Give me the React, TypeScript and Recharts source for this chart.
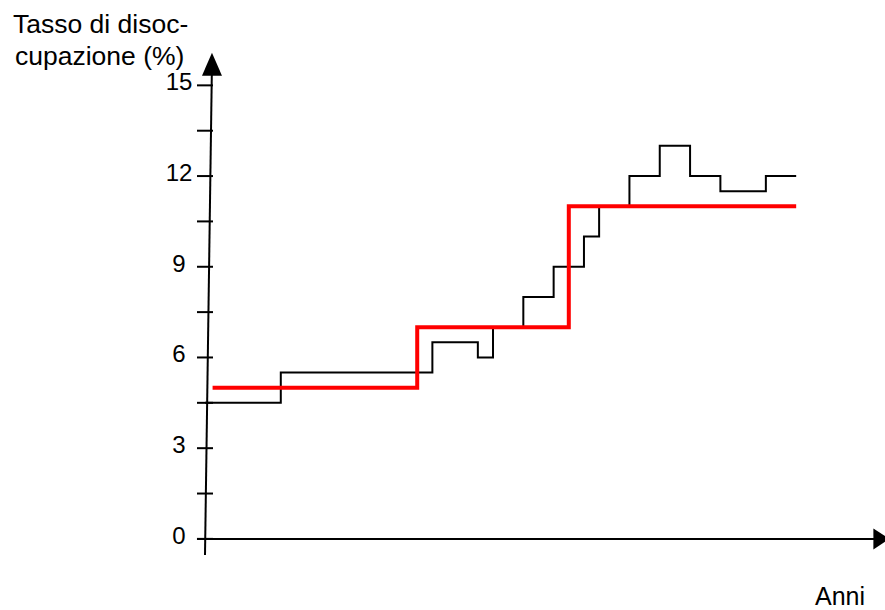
import { LineChart, Line, XAxis, YAxis, ReferenceLine } from "recharts";

// x is in half-year steps from the origin, y is the rate in %
const OBS_X = [0, 5, 15, 18, 19, 21, 23, 25, 26, 28, 30, 32, 34, 37, 39];
const OBS_RATE = [4.5, 5.5, 6.5, 6, 7, 8, 9, 10, 11, 12, 13, 12, 11.5, 12, 12];
const NAT_X = [0.5, 14, 24, 39];
const NAT_RATE = [5, 7, 11, 11];
const Y_TICKS = [0, 1.5, 3, 4.5, 6, 7.5, 9, 10.5, 12, 13.5, 15];
const LABELED = [0, 3, 6, 9, 12, 15];

const observed = OBS_X.map((x, i) => ({ x, rate: OBS_RATE[i] }));
const natural = NAT_X.map((x, i) => ({ x, rate: NAT_RATE[i] }));

const FONT = "'Liberation Sans', Arial, sans-serif";

interface TickProps {
  y?: number;
  payload?: { value: number };
}

function YTick({ y = 0, payload }: TickProps) {
  const v = payload?.value ?? 0;
  return (
    <g>
      <line x1={197} x2={213} y1={y} y2={y} stroke="#000" strokeWidth={2} />
      {LABELED.includes(v) && (
        <text x={179} y={y + 5} textAnchor="middle" fontSize={24} fontFamily={FONT} fill="#000">
          {v}
        </text>
      )}
    </g>
  );
}

interface ArrowProps {
  x1?: number;
  y1?: number;
  x2?: number;
  y2?: number;
}

function ArrowUp({ x1 = 0, y1 = 0, x2 = 0, y2 = 0 }: ArrowProps) {
  return (
    <g>
      <line x1={x1} y1={y1} x2={x2} y2={y2 + 10} stroke="#000" strokeWidth={2} />
      <polygon points={`${x2},${y2} ${x2 - 10},${y2 + 23} ${x2 + 10},${y2 + 23}`} fill="#000" />
    </g>
  );
}

function ArrowRight({ x1 = 0, y1 = 0, x2 = 0, y2 = 0 }: ArrowProps) {
  return (
    <g>
      <line x1={x1} y1={y1} x2={x2 - 10} y2={y2} stroke="#000" strokeWidth={2} />
      <polygon points={`${x2},${y2} ${x2 - 16},${y2 - 10.5} ${x2 - 16},${y2 + 10.5}`} fill="#000" />
    </g>
  );
}

export default function App() {
  return (
    <div style={{ position: "absolute", left: 0, top: 0, width: 885, height: 610, background: "#fff", fontFamily: FONT }}>
      <LineChart width={885} height={610} margin={{ top: 40, right: 10, bottom: 56, left: 0 }}>
        <XAxis type="number" dataKey="x" domain={[0, 44.2]} hide allowDataOverflow />
        <YAxis
          type="number"
          domain={[-0.5, 16.5]}
          ticks={Y_TICKS}
          interval={0}
          width={205}
          axisLine={false}
          tickLine={false}
          tick={<YTick />}
        />
        <ReferenceLine
          segment={[{ x: -0.53, y: 0 }, { x: 45.15, y: 0 }]}
          ifOverflow="visible"
          shape={(p: ArrowProps) => <ArrowRight {...p} />}
        />
        <ReferenceLine
          segment={[{ x: 0, y: -0.53 }, { x: 0.46, y: 16.08 }]}
          ifOverflow="visible"
          shape={(p: ArrowProps) => <ArrowUp {...p} />}
        />
        <Line
          data={observed}
          dataKey="rate"
          type="stepAfter"
          stroke="#000"
          strokeWidth={2}
          dot={false}
          isAnimationActive={false}
        />
        <Line
          data={natural}
          dataKey="rate"
          type="stepAfter"
          stroke="#ff0000"
          strokeWidth={4}
          dot={false}
          isAnimationActive={false}
        />
      </LineChart>
      <div style={{ position: "absolute", left: 13, top: 8, fontSize: 26.5, lineHeight: "32px", color: "#000" }}>
        <div>Tasso di disoc-</div>
        <div style={{ paddingLeft: 2 }}>cupazione (%)</div>
      </div>
      <div style={{ position: "absolute", left: 815, top: 581, fontSize: 25, lineHeight: "30px", color: "#000" }}>
        Anni
      </div>
    </div>
  );
}
